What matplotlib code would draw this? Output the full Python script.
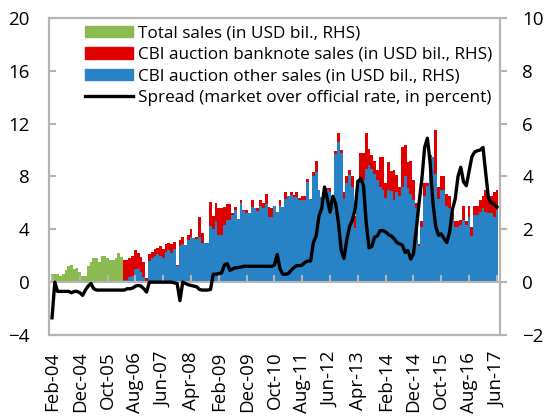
import numpy as np
import pandas as pd
import matplotlib
matplotlib.use('Agg')
import matplotlib.pyplot as plt
from matplotlib.patches import Patch
from matplotlib.lines import Line2D

plt.rcParams['font.family'] = ['Open Sans', 'DejaVu Sans']

months = pd.date_range('2004-02-01', '2017-06-01', freq='MS')
tick_every = 10

# total sales (USD bil, RHS) Feb-04 .. Mar-06
total_sales = [0.3, 0.3, 0.3, 0.25, 0.3, 0.45, 0.6, 0.65, 0.5, 0.55,
               0.4, 0.22, 0.22, 0.6, 0.75, 0.9, 0.9, 0.75, 1.0, 1.0,
               0.9, 0.85, 0.85, 0.9, 1.1, 0.95]

# CBI auction other sales (USD bil, RHS) Apr-06 .. Jun-17
other_sales = [0.08, 0.1, 0.2, 0.25, 0.5, 0.5, 0.4, 0.2, 0.0, 0.8,
               0.9, 1.0, 1.05, 1.0, 0.9, 1.15, 1.2, 1.1, 1.27, 0.6,
               1.35, 1.45, 1.4, 1.6, 1.7, 1.67, 1.65, 1.7, 1.5, 1.5,
               1.5, 2.12, 2.0, 2.3, 1.8, 1.8, 2.15, 2.35, 2.35, 2.55,
               2.75, 2.4, 3.0, 2.7, 2.6, 2.6, 2.85, 2.8, 2.7, 2.9,
               2.8, 2.95, 2.45, 2.45, 2.9, 2.65, 2.9, 2.85, 3.15, 3.25,
               3.3, 3.22, 3.22, 3.1, 3.1, 3.1, 3.8, 3.15, 4.0, 4.18,
               3.5, 3.22, 3.45, 3.5, 3.4, 3.05, 4.85, 5.3, 4.9, 3.15,
               3.75, 4.05, 3.6, 2.05, 3.85, 3.85, 3.85, 4.3, 4.45, 4.3,
               4.1, 3.85, 3.6, 3.5, 3.2, 3.5, 3.45, 3.1, 3.4, 3.25,
               3.6, 4.0, 3.55, 3.35, 3.1, 2.8, 1.35, 2.1, 3.25, 3.65,
               4.75, 4.75, 4.1, 3.15, 3.5, 3.5, 2.9, 2.8, 2.4, 2.1,
               2.1, 2.15, 2.35, 2.15, 2.45, 1.75, 2.55, 2.55, 2.65, 2.8,
               2.65, 2.6, 2.6, 2.45, 2.75]

# CBI auction banknote sales (USD bil, RHS) Apr-06 .. Jun-17
banknote_sales = [0.77, 0.75, 0.7, 0.75, 0.7, 0.6, 0.55, 0.55, 0.15, 0.25,
                  0.25, 0.25, 0.25, 0.35, 0.35, 0.3, 0.3, 0.35, 0.25, 0.05,
                  0.25, 0.25, 0.0, 0.18, 0.32, 0.0, 0.05, 0.78, 0.35, 0.0,
                  0.0, 0.93, 0.5, 0.68, 1.0, 1.0, 0.7, 0.62, 0.62, 0.05,
                  0.08, 0.0, 0.1, 0.05, 0.15, 0.0, 0.25, 0.0, 0.1, 0.2,
                  0.2, 0.4, 0.38, 0.35, 0.0, 0.0, 0.2, 0.0, 0.25, 0.0,
                  0.12, 0.08, 0.2, 0.1, 0.18, 0.18, 0.12, 0.0, 0.18, 0.42,
                  0.0, 0.0, 0.15, 0.05, 0.15, 0.0, 0.1, 0.35, 0.1, 0.28,
                  0.25, 0.2, 0.4, 0.45, 0.0, 1.02, 1.02, 1.35, 0.6, 0.5,
                  0.5, 0.4, 1.15, 1.25, 0.55, 1.05, 0.75, 1.15, 0.65, 0.35,
                  1.52, 1.2, 1.0, 1.25, 0.75, 0.2, 0.1, 0.2, 0.5, 0.1,
                  0.05, 0.0, 1.65, 0.45, 0.5, 0.5, 0.45, 0.45, 0.2, 0.2,
                  0.2, 0.2, 0.55, 0.15, 0.45, 0.35, 0.35, 0.35, 0.45, 0.45,
                  0.85, 0.65, 0.65, 0.98, 0.75]

# spread, market over official rate (percent, LHS) Feb-04 .. Jun-17
spread = [-2.7, 0.0, -0.7, -0.7, -0.7, -0.7, -0.7, -0.8, -0.7, -0.7,
          -0.8, -1.0, -0.6, -0.3, -0.1, -0.5, -0.6, -0.6, -0.6, -0.6,
          -0.6, -0.6, -0.6, -0.6, -0.6, -0.6, -0.6, -0.5, -0.5, -0.45,
          -0.3, -0.25, -0.3, -0.5, -0.75, 0.0, 0.0, 0.0, 0.0, 0.0,
          0.0, 0.0, 0.0, 0.0, -0.05, -0.1, -1.4, 0.0, -0.1, -0.2,
          -0.25, -0.3, -0.35, -0.55, -0.6, -0.6, -0.6, -0.55, 0.6, 0.6,
          0.65, 0.7, 1.3, 1.4, 0.9, 1.0, 1.1, 1.1, 1.15, 1.2,
          1.2, 1.2, 1.2, 1.2, 1.2, 1.2, 1.2, 1.2, 1.2, 1.2,
          1.3, 2.1, 1.0, 0.6, 0.6, 0.65, 0.9, 1.1, 1.25, 1.25,
          1.3, 1.5, 1.6, 1.6, 3.0, 3.5, 5.0, 5.6, 7.2, 6.3,
          5.3, 6.5, 5.95, 4.5, 2.4, 1.8, 3.2, 4.2, 4.7, 5.5,
          7.6, 7.85, 7.35, 4.5, 2.6, 2.7, 3.4, 3.5, 3.9, 3.9,
          3.8, 3.6, 3.5, 3.3, 3.0, 2.9, 2.8, 2.25, 2.4, 1.75,
          2.15, 4.0, 6.0, 7.8, 10.2, 10.9, 9.0, 6.0, 4.2, 3.55,
          3.65, 3.3, 3.0, 3.8, 5.5, 6.3, 8.0, 8.7, 7.6, 7.3,
          8.4, 9.5, 9.85, 9.95, 10.0, 10.2, 8.2, 6.3, 6.0, 5.9,
          5.7]

green = '#8BBB50'
red = '#E00000'
blue = '#2782C6'
grey = '#B4B4B4'

n_total = len(total_sales)
x_all = np.arange(len(months))
x_total = x_all[:n_total]
x_cbi = x_all[n_total:]
tick_labels = [m.strftime('%b-%y') for m in months[::tick_every]]

fig = plt.figure(figsize=(5.46, 4.18), dpi=100)
ax = fig.add_axes([0.0897, 0.1986, 0.826, 0.7584])
ax2 = ax.twinx()

ax2.bar(x_total, total_sales, width=1.0, color=green, linewidth=0)
ax2.bar(x_cbi, other_sales, width=1.0, color=blue, linewidth=0)
ax2.bar(x_cbi, banknote_sales, bottom=other_sales, width=1.0, color=red, linewidth=0)

ax.plot(x_all, spread, color='black', lw=2.4, solid_joinstyle='round')

# left axis above twin so the line sits on the bars
ax.set_zorder(ax2.get_zorder() + 1)
ax.patch.set_visible(False)

ax.set_xlim(-1.1, len(months) - 1 + 1.1)
ax.set_ylim(-4, 20)
ax.set_yticks(range(-4, 21, 4))
ax2.set_ylim(-2, 10)
ax2.set_yticks(range(-2, 11, 2))

ax.set_xticks(x_all[::tick_every])
ax.set_xticklabels(tick_labels, rotation=90)
ax.tick_params(axis='x', length=0, labelsize=13.5, pad=12)
ax.tick_params(axis='y', direction='in', length=5, color=grey, width=1.5,
               labelsize=13.5, pad=14)
ax2.tick_params(axis='y', direction='out', length=5, color=grey, width=1.5,
                labelsize=13.5, pad=11)

# x axis line with ticks at zero
zero_axis = ax.secondary_xaxis(4 / 24)
zero_axis.set_xticks(x_all[::tick_every])
zero_axis.set_xticklabels([])
zero_axis.tick_params(direction='in', length=5, color=grey, width=1.5)
zero_axis.spines['bottom'].set_color(grey)
zero_axis.spines['bottom'].set_linewidth(1.5)

for a in (ax, ax2):
    for s in a.spines.values():
        s.set_color(grey)
        s.set_linewidth(1.5)

handles = [Patch(color=green), Patch(color=red), Patch(color=blue),
           Line2D([], [], color='black', lw=2.4)]
labels = ['Total sales (in USD bil., RHS)',
          'CBI auction banknote sales (in USD bil., RHS)',
          'CBI auction other sales (in USD bil., RHS)',
          'Spread (market over official rate, in percent)']
ax.legend(handles, labels, loc='upper left', bbox_to_anchor=(0.08, 0.977),
          frameon=False, fontsize=12.3, handlelength=2.8, handleheight=0.64,
          labelspacing=0.33, handletextpad=0.3, borderaxespad=0, borderpad=0)

fig.savefig('out.png', dpi=100)
